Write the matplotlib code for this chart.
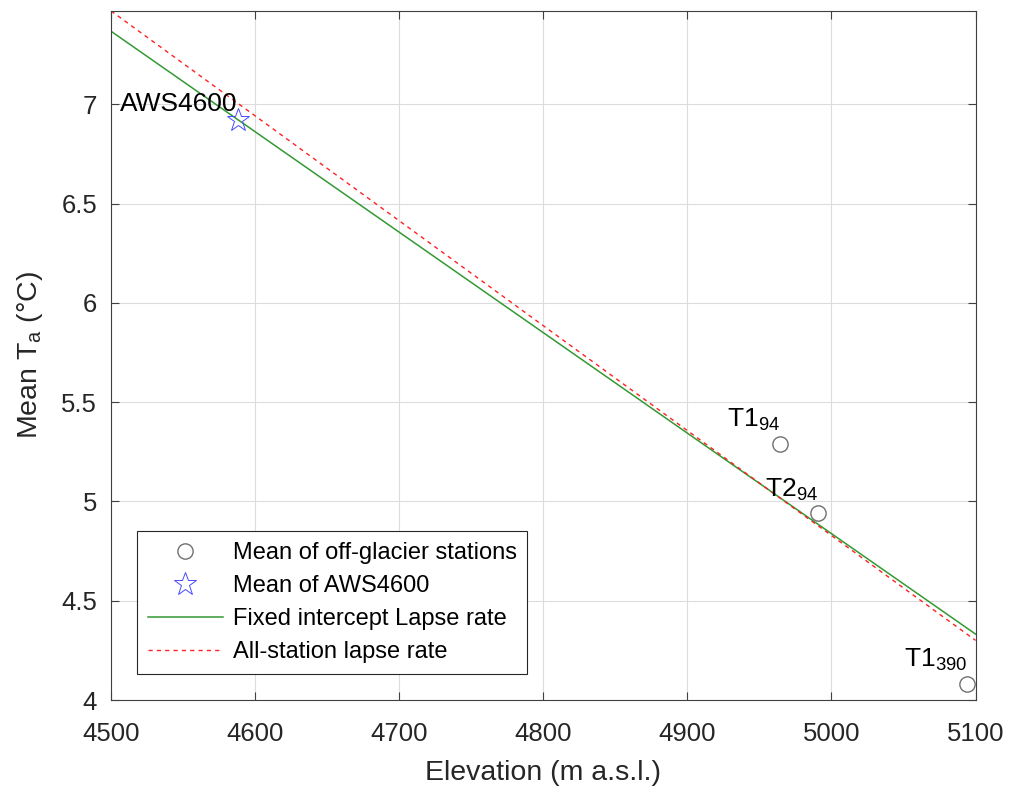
import matplotlib
matplotlib.use('Agg')
import matplotlib.pyplot as plt
import numpy as np

plt.rcParams['font.family'] = ['Liberation Sans', 'DejaVu Sans']
plt.rcParams['mathtext.fontset'] = 'custom'
plt.rcParams['mathtext.rm'] = 'Liberation Sans'
plt.rcParams['mathtext.it'] = 'Liberation Sans'

# Data
off_elev = [4964, 4991, 5094]
off_ta = [5.29, 4.94, 4.08]
off_names = ['T1$_{94}$', 'T2$_{94}$', 'T1$_{390}$']
aws_elev = 4588
aws_ta = 6.923
aws_name = 'AWS4600'
fixed_lapse = -5.06  # degC per km, line forced through AWS4600
x_line = np.array([4500, 5100])
x_ticks = [4500, 4600, 4700, 4800, 4900, 5000, 5100]
y_ticks = [4, 4.5, 5, 5.5, 6, 6.5, 7]
y_ticklabels = ['4', '4.5', '5', '5.5', '6', '6.5', '7']

# lines
y_fixed = aws_ta + fixed_lapse / 1000 * (x_line - aws_elev)
all_elev = off_elev + [aws_elev]
all_ta = off_ta + [aws_ta]
coef = np.polyfit(all_elev, all_ta, 1)
y_all = np.polyval(coef, x_line)

fig = plt.figure(figsize=(10.09, 7.87), dpi=100)
ax = fig.add_axes([0.110, 0.1105, 0.8568, 0.8755])

ax.plot(off_elev, off_ta, 'o', mfc='none', mec='#707070', ms=11, mew=1.0,
        label='Mean of off-glacier stations', zorder=3)
ax.plot([aws_elev], [aws_ta], '*', mfc='none', mec='#4a4aff', ms=17, mew=0.7,
        label='Mean of AWS4600', zorder=3)
ax.plot(x_line, y_fixed, '-', color='#339933', lw=1.1,
        label='Fixed intercept Lapse rate')
ax.plot(x_line, y_all, '--', color='#ff2020', lw=1.0, dashes=(3, 3),
        label='All-station lapse rate')

for xe, ya, name in zip(off_elev, off_ta, off_names):
    ax.text(xe, ya + 0.12, name, ha='right', va='center', fontsize=19)
ax.text(aws_elev, aws_ta + 0.08, aws_name, ha='right', va='center', fontsize=19)

ax.set_xlim(4500, 5100)
ax.set_ylim(4, 7.47)
ax.set_xticks(x_ticks)
ax.set_yticks(y_ticks)
ax.set_yticklabels(y_ticklabels)
ax.grid(True, color='#dcdcdc', lw=0.8)
ax.set_axisbelow(True)
ax.tick_params(direction='in', top=True, right=True, length=6, width=0.8,
               color='#404040', labelsize=18.5, labelcolor='#262626')
ax.tick_params(axis='x', pad=16)
ax.tick_params(axis='y', pad=10)
for s in ax.spines.values():
    s.set_color('#404040')
    s.set_linewidth(0.8)

ax.set_xlabel('Elevation (m a.s.l.)', fontsize=20.5, color='#262626', labelpad=10)
ax.set_ylabel('Mean T$_{\\rm a}$ (°C)', fontsize=20.5, color='#262626', labelpad=12)

leg = ax.legend(loc='lower left', bbox_to_anchor=(0.03, 0.038), borderaxespad=0,
                fontsize=17, numpoints=1, handlelength=3.2, fancybox=False,
                framealpha=1, edgecolor='#262626', labelspacing=0.47,
                borderpad=0.45, handletextpad=0.4)
leg.get_frame().set_linewidth(0.8)

fig.savefig('out.png', dpi=100)
